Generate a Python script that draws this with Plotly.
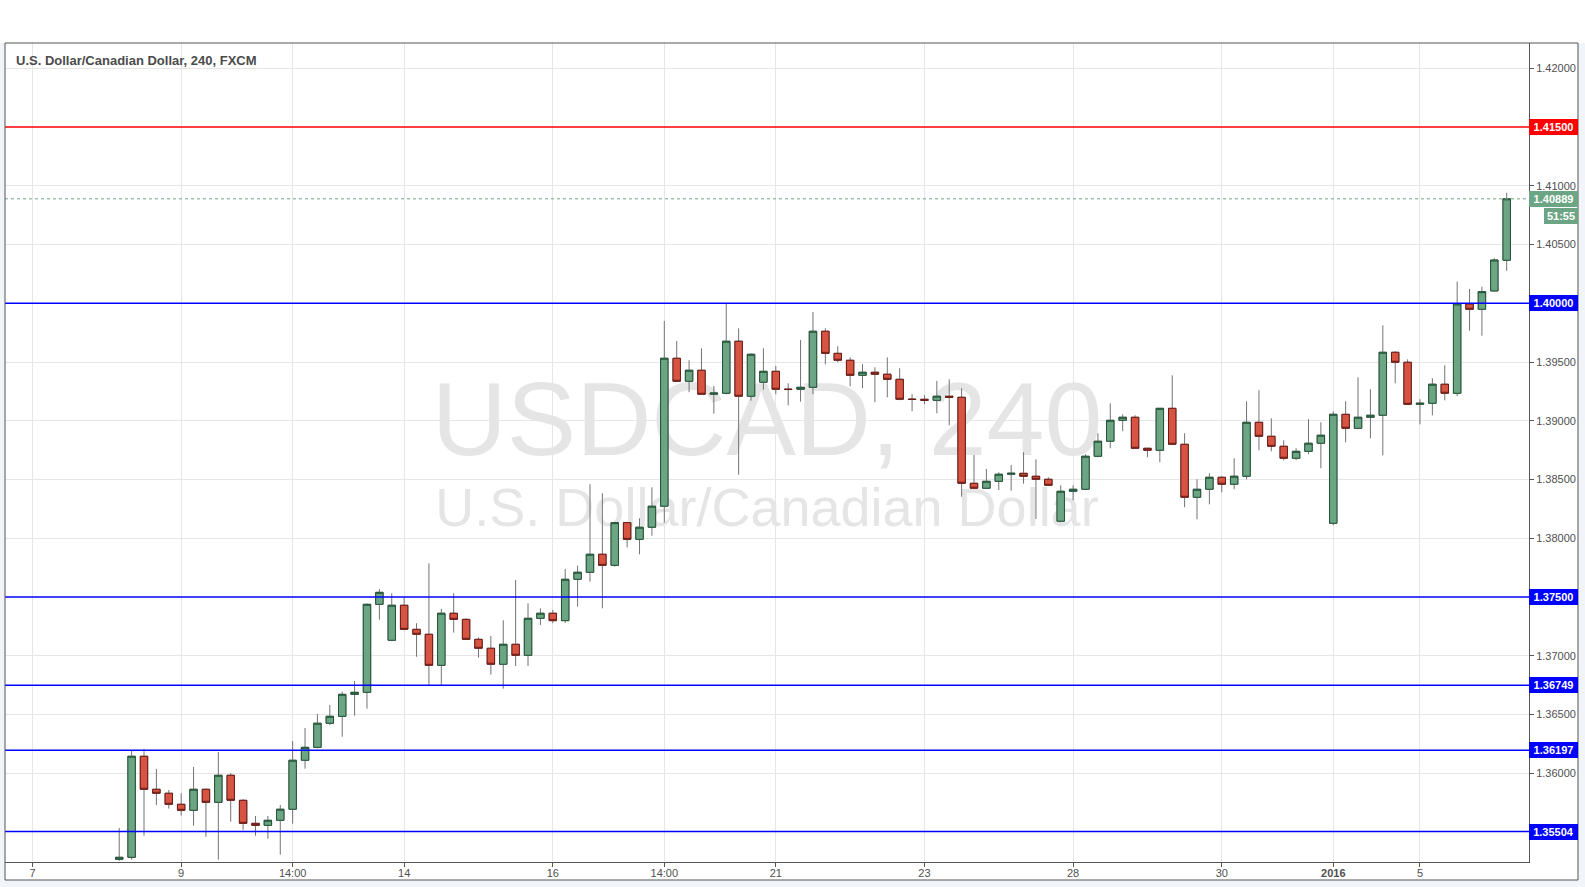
import plotly.graph_objects as go

# ---------------- data ----------------
bar_slot = list(range(7, 120))

open_ = [
    1.35268, 1.35285, 1.36145, 1.35864, 1.35830, 1.35736, 1.35685, 1.35864, 1.35753, 1.35983,
    1.35770, 1.35574, 1.35557, 1.35600, 1.35694, 1.36111, 1.36221, 1.36426, 1.36485, 1.36672,
    1.36689, 1.37438, 1.37132, 1.37430, 1.37225, 1.37183, 1.36919, 1.37362, 1.37310, 1.37140,
    1.37064, 1.36928, 1.37098, 1.37004, 1.37319, 1.37362, 1.37299, 1.37651, 1.37711, 1.37864,
    1.37770, 1.38133, 1.37991, 1.38094, 1.38273, 1.39532, 1.39336, 1.39430, 1.39226, 1.39234,
    1.39677, 1.39209, 1.39328, 1.39421, 1.39270, 1.39268, 1.39285, 1.39762, 1.39574, 1.39515,
    1.39387, 1.39413, 1.39396, 1.39353, 1.39185, 1.39183, 1.39174, 1.39209, 1.39200, 1.38468,
    1.38426, 1.38485, 1.38545, 1.38553, 1.38528, 1.38502, 1.38145, 1.38400, 1.38417, 1.38698,
    1.38826, 1.39004, 1.39030, 1.38766, 1.38749, 1.39106, 1.38800, 1.38349, 1.38417, 1.38519,
    1.38460, 1.38528, 1.38987, 1.38868, 1.38783, 1.38681, 1.38740, 1.38809, 1.38128, 1.39055,
    1.38936, 1.39030, 1.39047, 1.39583, 1.39498, 1.39140, 1.39149, 1.39311, 1.39234, 1.39994,
    1.39949, 1.40105, 1.40366,
]
high = [
    1.35535, 1.36198, 1.36207, 1.36037, 1.35858, 1.35830, 1.36054, 1.35870, 1.36181, 1.36002,
    1.35780, 1.35637, 1.35637, 1.35730, 1.36275, 1.36386, 1.36505, 1.36581, 1.36695, 1.36785,
    1.37445, 1.37568, 1.37532, 1.37498, 1.37277, 1.37787, 1.37400, 1.37532, 1.37319, 1.37157,
    1.37168, 1.37302, 1.37645, 1.37447, 1.37404, 1.37390, 1.37739, 1.37767, 1.38460, 1.38383,
    1.38140, 1.38140, 1.38170, 1.38434, 1.39849, 1.39679, 1.39515, 1.39617, 1.39296, 1.40003,
    1.39787, 1.39574, 1.39617, 1.39466, 1.39319, 1.39688, 1.39926, 1.39787, 1.39634, 1.39540,
    1.39481, 1.39455, 1.39540, 1.39447, 1.39226, 1.39217, 1.39339, 1.39353, 1.39277, 1.38709,
    1.38590, 1.38562, 1.38624, 1.38732, 1.38672, 1.38519, 1.38451, 1.38451, 1.38715, 1.38894,
    1.39149, 1.39055, 1.39047, 1.38770, 1.39110, 1.39387, 1.38894, 1.38502, 1.38553, 1.38528,
    1.38681, 1.39166, 1.39260, 1.39021, 1.38834, 1.38766, 1.39013, 1.38987, 1.39081, 1.39166,
    1.39370, 1.39268, 1.39813, 1.39591, 1.39523, 1.39183, 1.39362, 1.39472, 1.40184, 1.40122,
    1.40141, 1.40383, 1.40941,
]
low = [
    1.35255, 1.35265, 1.35469, 1.35730, 1.35699, 1.35639, 1.35554, 1.35460, 1.35265, 1.35588,
    1.35520, 1.35469, 1.35443, 1.35307, 1.35571, 1.36039, 1.36213, 1.36411, 1.36311, 1.36490,
    1.36550, 1.37307, 1.37125, 1.37217, 1.36992, 1.36749, 1.36749, 1.37197, 1.37135, 1.36984,
    1.36840, 1.36720, 1.36913, 1.36913, 1.37262, 1.37277, 1.37280, 1.37418, 1.37631, 1.37404,
    1.37758, 1.37923, 1.37864, 1.38022, 1.38133, 1.39330, 1.39243, 1.39220, 1.39061, 1.39225,
    1.38541, 1.39171, 1.39265, 1.39226, 1.39132, 1.39163, 1.39226, 1.39481, 1.39498, 1.39294,
    1.39277, 1.39157, 1.39200, 1.39175, 1.39081, 1.39140, 1.39064, 1.38962, 1.38354, 1.38420,
    1.38420, 1.38411, 1.38405, 1.38465, 1.38164, 1.38445, 1.38136, 1.38323, 1.38410, 1.38689,
    1.38766, 1.38911, 1.38760, 1.38689, 1.38647, 1.38795, 1.38264, 1.38162, 1.38289, 1.38391,
    1.38417, 1.38502, 1.38749, 1.38740, 1.38664, 1.38664, 1.38715, 1.38596, 1.38111, 1.38817,
    1.38928, 1.38851, 1.38706, 1.39319, 1.39135, 1.38970, 1.39047, 1.39174, 1.39209, 1.39767,
    1.39724, 1.40100, 1.40277,
]
close = [
    1.35285, 1.36145, 1.35864, 1.35830, 1.35736, 1.35685, 1.35864, 1.35753, 1.35983, 1.35770,
    1.35574, 1.35557, 1.35600, 1.35694, 1.36111, 1.36221, 1.36426, 1.36485, 1.36672, 1.36689,
    1.37438, 1.37540, 1.37430, 1.37225, 1.37183, 1.36919, 1.37362, 1.37310, 1.37140, 1.37064,
    1.36928, 1.37098, 1.37004, 1.37319, 1.37362, 1.37299, 1.37651, 1.37711, 1.37864, 1.37770,
    1.38133, 1.37991, 1.38094, 1.38273, 1.39532, 1.39336, 1.39430, 1.39226, 1.39236, 1.39677,
    1.39209, 1.39566, 1.39421, 1.39268, 1.39266, 1.39285, 1.39762, 1.39574, 1.39515, 1.39387,
    1.39413, 1.39396, 1.39353, 1.39183, 1.39181, 1.39174, 1.39209, 1.39200, 1.38468, 1.38426,
    1.38485, 1.38545, 1.38553, 1.38528, 1.38502, 1.38451, 1.38400, 1.38417, 1.38698, 1.38826,
    1.39004, 1.39030, 1.38766, 1.38749, 1.39106, 1.38800, 1.38349, 1.38417, 1.38519, 1.38460,
    1.38528, 1.38987, 1.38868, 1.38783, 1.38681, 1.38740, 1.38809, 1.38877, 1.39055, 1.38936,
    1.39030, 1.39047, 1.39583, 1.39498, 1.39140, 1.39149, 1.39311, 1.39234, 1.39994, 1.39949,
    1.40099, 1.40368, 1.40889,
]
assert len(open_) == len(high) == len(low) == len(close) == len(bar_slot)

tick_slots = [0, 12, 21, 30, 42, 51, 60, 72, 84, 96, 105, 112]
tick_labels = ['7', '9', '14:00', '14', '16', '14:00', '21', '23', '28', '30', '<b>2016</b>', '5']

price_ticks = [1.36, 1.365, 1.37, 1.38, 1.385, 1.39, 1.395, 1.405, 1.41, 1.42]
level_prices = [1.415, 1.40, 1.375, 1.36749, 1.36197, 1.35504]
level_colors = ['#ff0000', '#0000ff', '#0000ff', '#0000ff', '#0000ff', '#0000ff']
last_price = 1.40889
countdown = '51:55'

title_text = 'U.S. Dollar/Canadian Dollar, 240, FXCM'
watermark_1 = 'USDCAD, 240'
watermark_2 = 'U.S. Dollar/Canadian Dollar'
watermark_prices = [1.38930, 1.38220]

# ---------------- styling ----------------
X_RANGE = [-2.22, 120.80]
Y_RANGE = [1.35245, 1.42215]
UP_FILL, UP_LINE = '#6ba583', '#225437'
DN_FILL, DN_LINE = '#d75442', '#6b1a14'
WICK = '#737375'
GRID = '#e6e6e6'
AXIS = '#555555'
TXT = '#4f4f4f'
FONT = 'Liberation Sans, Arial, sans-serif'

body_high = [max(o, c) for o, c in zip(open_, close)]
body_low = [min(o, c) for o, c in zip(open_, close)]

fig = go.Figure()

# watermark (under the candles: main subplot, candles go on the overlay subplot)
x_mid = (X_RANGE[0] + X_RANGE[1]) / 2
fig.add_trace(go.Scatter(
    x=[x_mid], y=[watermark_prices[0]], mode='text', text=[watermark_1],
    textposition='middle center', textfont=dict(family=FONT, size=104, color='#e5e5e5'),
    hoverinfo='skip', showlegend=False, xaxis='x', yaxis='y'))
fig.add_trace(go.Scatter(
    x=[x_mid], y=[watermark_prices[1]], mode='text', text=[watermark_2],
    textposition='middle center', textfont=dict(family=FONT, size=54, color='#e5e5e5'),
    hoverinfo='skip', showlegend=False, xaxis='x', yaxis='y'))

# wicks
fig.add_trace(go.Candlestick(
    x=bar_slot, open=open_, high=high, low=low, close=close,
    increasing=dict(line=dict(color=WICK, width=1), fillcolor=WICK),
    decreasing=dict(line=dict(color=WICK, width=1), fillcolor=WICK),
    hoverinfo='skip', showlegend=False, xaxis='x2', yaxis='y2'))
# bodies
fig.add_trace(go.Candlestick(
    x=bar_slot, open=open_, high=body_high, low=body_low, close=close,
    increasing=dict(line=dict(color=UP_LINE, width=1), fillcolor=UP_FILL),
    decreasing=dict(line=dict(color=DN_LINE, width=1), fillcolor=DN_FILL),
    hoverinfo='skip', showlegend=False, xaxis='x2', yaxis='y2'))

W, H = 1585, 887
ML, MR, MT, MB = 5, 56, 43, 25
PW, PH = W - ML - MR, H - MT - MB


def px_x(px):
    return (px - ML) / PW


def px_y(py):
    return (H - MB - py) / PH


shapes = []
# page background pieces
shapes.append(dict(type='rect', xref='paper', yref='paper', x0=px_x(0), x1=px_x(W),
                   y0=1, y1=px_y(0), fillcolor='#ffffff', line=dict(width=0), layer='below'))
shapes.append(dict(type='rect', xref='paper', yref='paper', x0=0, x1=px_x(1578),
                   y0=px_y(880), y1=1, fillcolor='#ffffff', line=dict(width=0), layer='below'))
# level lines
for p, col in zip(level_prices, level_colors):
    shapes.append(dict(type='line', xref='paper', yref='y', x0=0, x1=1, y0=p, y1=p,
                       line=dict(color=col, width=1.5), layer='above'))
shapes.append(dict(type='line', xref='paper', yref='y', x0=0, x1=1, y0=last_price, y1=last_price,
                   line=dict(color=UP_FILL, width=1, dash='dot'), layer='above'))
# outer frame
shapes.append(dict(type='rect', xref='paper', yref='paper', x0=0, x1=px_x(1578),
                   y0=px_y(880), y1=1, fillcolor='rgba(0,0,0,0)',
                   line=dict(color=AXIS, width=1), layer='above'))

annotations = []
annotations.append(dict(text=title_text, xref='paper', yref='paper', x=px_x(14), y=px_y(60),
                        xanchor='left', yanchor='middle', showarrow=False,
                        font=dict(family=FONT, size=13, color='#4b4b4b', weight='bold')))
for p, col in zip(level_prices, level_colors):
    annotations.append(dict(text=f'{p:.5f}', xref='paper', yref='y', x=1, y=p,
                            xanchor='left', yanchor='middle', showarrow=False,
                            bgcolor=col, width=45, height=12, borderpad=2, borderwidth=0,
                            font=dict(family=FONT, size=11, color='#ffffff', weight='bold')))
annotations.append(dict(text=f'{last_price:.5f}', xref='paper', yref='y', x=1, y=last_price,
                        xanchor='left', yanchor='middle', showarrow=False,
                        bgcolor=UP_FILL, width=45, height=12, borderpad=2, borderwidth=0,
                        font=dict(family=FONT, size=11, color='#ffffff', weight='bold')))
annotations.append(dict(text=countdown, xref='paper', yref='paper', x=px_x(1544), y=px_y(216),
                        xanchor='left', yanchor='middle', showarrow=False,
                        bgcolor=UP_FILL, width=30, height=12, borderpad=2, borderwidth=0,
                        font=dict(family=FONT, size=11, color='#ffffff', weight='bold')))

fig.update_layout(
    width=W, height=H,
    margin=dict(l=ML, r=MR, t=MT, b=MB, pad=0),
    paper_bgcolor='#f1f4f8', plot_bgcolor='#ffffff',
    showlegend=False, hovermode=False,
    boxgap=0.4, boxgroupgap=0,
    shapes=shapes, annotations=annotations,
    xaxis=dict(range=X_RANGE, tickmode='array', tickvals=tick_slots, ticktext=tick_labels,
               showgrid=True, gridcolor=GRID, gridwidth=1, zeroline=False,
               showline=True, linecolor=AXIS, linewidth=1,
               ticks='outside', ticklen=4, tickcolor=AXIS, ticklabelstandoff=-3,
               tickfont=dict(family=FONT, size=11, color=TXT),
               rangeslider=dict(visible=False), fixedrange=True),
    yaxis=dict(range=Y_RANGE, side='right', tickmode='array', tickvals=price_ticks,
               tickformat='.5f', showgrid=True, gridcolor=GRID, gridwidth=1, zeroline=False,
               showline=True, linecolor=AXIS, linewidth=1,
               ticks='outside', ticklen=4, tickcolor=AXIS,
               tickfont=dict(family=FONT, size=11, color=TXT), fixedrange=True),
    xaxis2=dict(range=X_RANGE, overlaying='x', visible=False, showgrid=False,
                rangeslider=dict(visible=False), fixedrange=True),
    yaxis2=dict(range=Y_RANGE, overlaying='y', visible=False, showgrid=False, fixedrange=True),
)

fig.write_html(
    'out.html',
    config={'displayModeBar': False, 'staticPlot': True},
    post_script="document.body.style.margin='0';document.body.style.overflow='hidden';",
)
